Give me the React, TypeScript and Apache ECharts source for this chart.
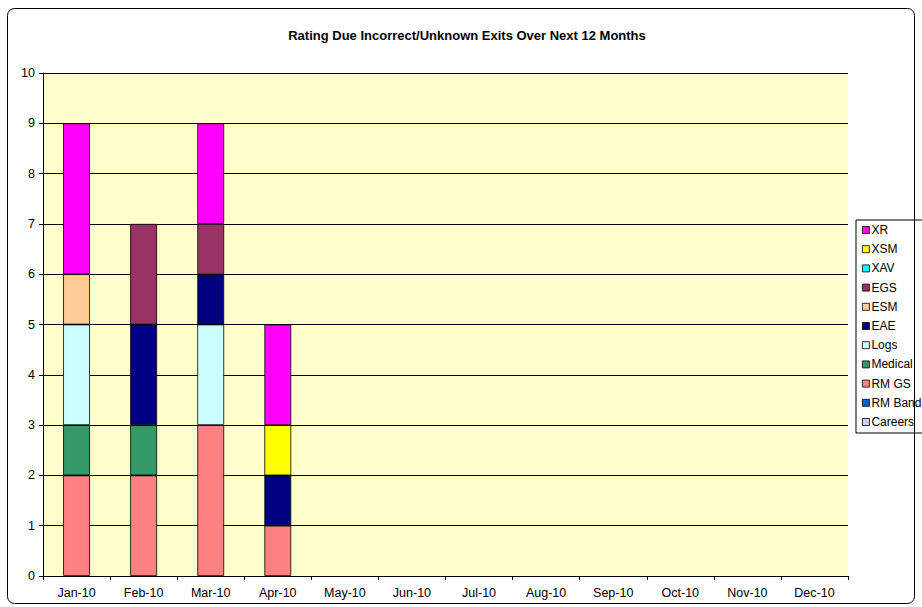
import React, { useEffect, useRef } from "react";
import * as echarts from "echarts";

const months = ["Jan-10", "Feb-10", "Mar-10", "Apr-10", "May-10", "Jun-10", "Jul-10", "Aug-10", "Sep-10", "Oct-10", "Nov-10", "Dec-10"];

// stacking order bottom -> top
const seriesNames = ["Careers", "RM Band", "RM GS", "Medical", "Logs", "EAE", "ESM", "EGS", "XAV", "XSM", "XR"];
const seriesColors = ["#CCCCFF", "#0066CC", "#FF8080", "#339966", "#CCFFFF", "#000080", "#FFCC99", "#993366", "#00FFFF", "#FFFF00", "#FF00FF"];

const careers = [0, 0, 0, 0, 0, 0, 0, 0, 0, 0, 0, 0];
const rmBand = [0, 0, 0, 0, 0, 0, 0, 0, 0, 0, 0, 0];
const rmGs = [2, 2, 3, 1, 0, 0, 0, 0, 0, 0, 0, 0];
const medical = [1, 1, 0, 0, 0, 0, 0, 0, 0, 0, 0, 0];
const logs = [2, 0, 2, 0, 0, 0, 0, 0, 0, 0, 0, 0];
const eae = [0, 2, 1, 1, 0, 0, 0, 0, 0, 0, 0, 0];
const esm = [1, 0, 0, 0, 0, 0, 0, 0, 0, 0, 0, 0];
const egs = [0, 2, 1, 0, 0, 0, 0, 0, 0, 0, 0, 0];
const xav = [0, 0, 0, 0, 0, 0, 0, 0, 0, 0, 0, 0];
const xsm = [0, 0, 0, 1, 0, 0, 0, 0, 0, 0, 0, 0];
const xr = [3, 0, 2, 2, 0, 0, 0, 0, 0, 0, 0, 0];

const seriesData = [careers, rmBand, rmGs, medical, logs, eae, esm, egs, xav, xsm, xr];

const title = "Rating Due Incorrect/Unknown Exits Over Next 12 Months";
const FONT = "Liberation Sans, Arial, sans-serif";

export default function App() {
  const ref = useRef<HTMLDivElement>(null);
  useEffect(() => {
    if (!ref.current) return;
    const chart = echarts.init(ref.current, undefined, { renderer: "svg" });
    chart.setOption({
      animation: false,
      backgroundColor: "#ffffff",
      textStyle: { fontFamily: FONT },
      title: {
        text: title,
        left: 462,
        textAlign: "center",
        top: 24,
        textStyle: { fontSize: 13, fontWeight: "bold", color: "#000", fontFamily: FONT },
      },
      graphic: [
        {
          type: "rect",
          shape: { x: 7.5, y: 8.5, width: 907, height: 595, r: 7 },
          style: { fill: "none", stroke: "#000", lineWidth: 1 },
          silent: true,
          z: 100,
        },
      ],
      legend: {
        orient: "vertical",
        left: 856,
        top: 220,
        data: seriesNames.slice().reverse(),
        itemWidth: 7,
        itemHeight: 7,
        itemGap: 5.2,
        icon: "rect",
        backgroundColor: "#ffffff",
        borderColor: "#000",
        borderWidth: 1,
        padding: [3, 8, 4, 6],
        textStyle: { fontSize: 12, lineHeight: 14, color: "#000", fontFamily: FONT, padding: [0, 0, 0, -3] },
        itemStyle: { borderColor: "#000", borderWidth: 0.8 },
      },
      grid: { left: 43, right: 74, top: 73, bottom: 31, containLabel: false, show: true, backgroundColor: "#FFFFCC", borderWidth: 0 },
      xAxis: {
        type: "category",
        data: months,
        axisLine: { lineStyle: { color: "#000" } },
        axisTick: { show: true, length: 4, lineStyle: { color: "#000" } },
        axisLabel: { fontSize: 12.5, color: "#000", margin: 10, fontFamily: FONT },
      },
      yAxis: {
        type: "value",
        min: 0,
        max: 10,
        interval: 1,
        axisLine: { show: true, lineStyle: { color: "#000" } },
        axisTick: { show: true, length: 4, lineStyle: { color: "#000" } },
        axisLabel: { fontSize: 12.5, color: "#000", margin: 8, fontFamily: FONT },
        splitLine: { show: true, lineStyle: { color: "#000", width: 1 } },
      },
      series: seriesNames.map((name, i) => ({
        name,
        type: "bar",
        stack: "total",
        data: seriesData[i].map((v) => (v === 0 ? null : v)),
        barWidth: "40%",
        itemStyle: { color: seriesColors[i], borderColor: "#000", borderWidth: 0.8 },
      })),
    });
    return () => chart.dispose();
  }, []);
  return <div ref={ref} style={{ position: "absolute", left: 0, top: 0, width: 922, height: 607 }} />;
}
